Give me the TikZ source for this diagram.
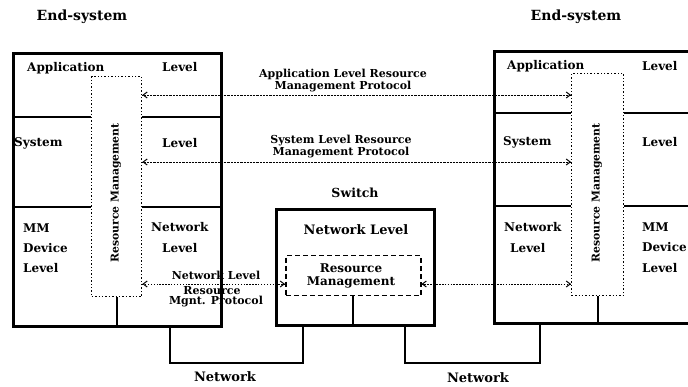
\documentclass[tikz,border=0pt]{standalone}
\usepackage{fontspec}
\setmainfont{DejaVu Serif}
\usetikzlibrary{arrows.meta}
\tikzset{
  lbl/.style={font=\bfseries\fontsize{12}{13}\selectfont, inner sep=0pt},
  plbl/.style={font=\bfseries\fontsize{11}{12}\selectfont, inner sep=0pt, align=center},
  ttl/.style={font=\bfseries\fontsize{14}{15}\selectfont, inner sep=0pt},
  outer/.style={draw, line width=2.6pt, inner sep=0pt, anchor=north west},
  rmbox/.style={draw, dotted, line width=1.4pt, inner sep=0pt, anchor=north west},
  swrm/.style={draw, dashed, dash pattern=on 5pt off 3pt, line width=1.5pt, inner sep=0pt, anchor=north west},
  divider/.style={line width=1.4pt},
  stem/.style={line width=1.6pt},
  netline/.style={line width=2.6pt},
  proto/.style={dotted, line width=0.9pt},
  tip/.style={-{Straight Barb[length=4pt,width=6pt,line width=1pt]}},
}
\begin{document}
\begin{tikzpicture}[x=1pt,y=-1pt]
\useasboundingbox (0,0) rectangle (688,387);
\clip (0,0) rectangle (688,387);

% titles
\node[ttl] (t1) at (82,17) {End-system};
\node[ttl] (t2) at (576,17) {End-system};
\node[font=\bfseries\fontsize{12.5}{13}\selectfont, inner sep=0pt] (t3) at (355,193) {Switch};

% left end-system
\node[outer, minimum width=208pt, minimum height=273pt] (L) at (12,52) {};
\node[rmbox, minimum width=50pt, minimum height=220pt] (RML) at (91,76) {};
\node[lbl, rotate=90, font=\bfseries\fontsize{10.8}{11}\selectfont] (rmlt) at (116,193) {Resource Management};
\coordinate (la1) at (12,117); \coordinate (la2) at (220,117);
\coordinate (lb1) at (12,207); \coordinate (lb2) at (220,207);
\draw[divider] (la1) -- (RML.west |- la1);
\draw[divider] (RML.east |- la2) -- (la2);
\draw[divider] (lb1) -- (RML.west |- lb1);
\draw[divider] (RML.east |- lb2) -- (lb2);
\draw[stem] (RML.south) -- (RML.south |- L.south);

\node[lbl, anchor=west] (l1) at (27,68) {Application};
\node[lbl, anchor=west] (l2) at (162,67) {Level};
\node[lbl, anchor=west] (l3) at (14,143) {System};
\node[lbl, anchor=west] (l4) at (162,143) {Level};
\node[lbl, anchor=west] (l5) at (23,228) {MM};
\node[lbl, anchor=west] (l6) at (23,248) {Device};
\node[lbl, anchor=west] (l7) at (23,268) {Level};
\node[lbl, anchor=west] (l8) at (151,227) {Network};
\node[lbl, anchor=west] (l9) at (162,248) {Level};

% switch
\node[outer, minimum width=158pt, minimum height=116pt] (S) at (275,208) {};
\node[swrm, minimum width=135pt, minimum height=40pt] (RMS) at (285,255) {};
\node[lbl, font=\bfseries\fontsize{13}{14}\selectfont] (s1) at (356,230) {Network Level};
\node[lbl] (s2) at (351,268) {Resource};
\node[lbl] (s3) at (351,282) {Management};
\draw[stem] (RMS.south) -- (RMS.south |- S.south);

% right end-system
\node[outer, minimum width=210pt, minimum height=272pt] (R) at (493,50) {};
\node[rmbox, minimum width=52pt, minimum height=222pt] (RMR) at (571,73) {};
\node[lbl, rotate=90, font=\bfseries\fontsize{10.8}{11}\selectfont] (rmrt) at (597,193) {Resource Management};
\coordinate (ra1) at (493,113); \coordinate (ra2) at (700,113);
\coordinate (rb1) at (493,206); \coordinate (rb2) at (700,206);
\draw[divider] (ra1) -- (RMR.west |- ra1);
\draw[divider] (RMR.east |- ra2) -- (ra2);
\draw[divider] (rb1) -- (RMR.west |- rb1);
\draw[divider] (RMR.east |- rb2) -- (rb2);
\draw[stem] (RMR.south) -- (RMR.south |- R.south);

\node[lbl, anchor=west] (r1) at (507,66) {Application};
\node[lbl, anchor=west] (r2) at (642,66) {Level};
\node[lbl, anchor=west] (r3) at (503,142) {System};
\node[lbl, anchor=west] (r4) at (642,142) {Level};
\node[lbl, anchor=west] (r5) at (504,227) {Network};
\node[lbl, anchor=west] (r6) at (510,248) {Level};
\node[lbl, anchor=west] (r7) at (642,227) {MM};
\node[lbl, anchor=west] (r8) at (642,247) {Device};
\node[lbl, anchor=west] (r9) at (642,268) {Level};

% protocols
\coordinate (ya) at (0,95);
\coordinate (ys) at (0,162);
\coordinate (yn) at (0,284);
\draw[proto, tip] (RMR.west |- ya) -- (RML.east |- ya);
\draw[proto, tip] (RML.east |- ya) -- (RMR.west |- ya);
\draw[proto, tip] (RMR.west |- ys) -- (RML.east |- ys);
\draw[proto, tip] (RML.east |- ys) -- (RMR.west |- ys);
\draw[proto, tip] (RMS.west |- yn) -- (RML.east |- yn);
\draw[proto, tip] (RML.east |- yn) -- (RMS.west |- yn);
\draw[proto, tip] (RMR.west |- yn) -- (RMS.east |- yn);
\draw[proto, tip] (RMS.east |- yn) -- (RMR.west |- yn);

\node[plbl] (p1) at (343,81) {Application Level Resource\\Management Protocol};
\node[plbl] (p2) at (341,147) {System Level Resource\\Management Protocol};
\node[plbl] (p3) at (216,275) {Network Level};
\node[plbl] (p4) at (212,291) {Resource};
\node[plbl] (p5) at (216,302) {Mgnt. Protocol};

% network lines
\coordinate (n1) at (170,363);
\coordinate (n2) at (303,363);
\coordinate (n3) at (405,363);
\coordinate (n4) at (540,363);
\draw[netline] (n1 |- L.south) -- (n1) -- (n2) -- (n2 |- S.south);
\draw[netline] (n3 |- S.south) -- (n3) -- (n4) -- (n4 |- R.south);
\node[ttl, font=\bfseries\fontsize{13}{14}\selectfont] (nw1) at (225,377) {Network};
\node[ttl, font=\bfseries\fontsize{13}{14}\selectfont] (nw2) at (478,378) {Network};
\end{tikzpicture}
\end{document}
